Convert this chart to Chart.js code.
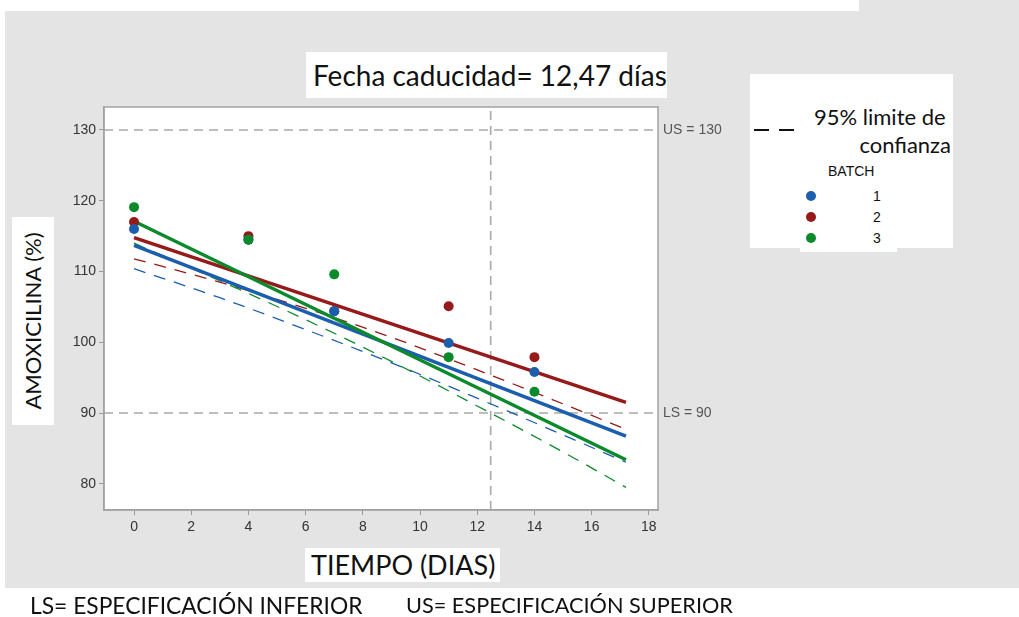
<!DOCTYPE html>
<html>
<head>
<meta charset="utf-8">
<script src="https://cdn.jsdelivr.net/npm/chart.js@4/dist/chart.umd.min.js"></script>
<style>
  html, body { margin:0; padding:0; background:#ffffff; width:1019px; height:617px; overflow:hidden; }
  .gray { position:absolute; background:#e4e4e4; }
  #wrap { position:absolute; left:0; top:0; width:1019px; height:617px; }
  canvas { position:absolute; left:0; top:0; }
  .box { position:absolute; background:#ffffff; }
  .txt { position:absolute; white-space:nowrap; color:#111; font-family:Lato, "Open Sans", sans-serif; }
  .dot { position:absolute; width:10px; height:10px; border-radius:50%; }
  .num { position:absolute; font-family:"Liberation Sans", Arial, sans-serif; font-size:14px; line-height:16px; color:#111; }
</style>
</head>
<body>
<div class="gray" style="left:5px; top:11px; width:1014px; height:577px;"></div>
<div class="gray" style="left:859px; top:0px; width:160px; height:12px;"></div>

<div id="wrap"><canvas id="c" width="1019" height="617"></canvas></div>

<!-- title -->
<div class="box" style="left:306px; top:52px; width:361px; height:46px;"></div>
<div class="txt" id="title" style="left:313px; top:58px; font-size:28px; line-height:34px;">Fecha caducidad= 12,47 días</div>

<!-- legend -->
<div class="box" style="left:750px; top:74px; width:203px; height:174px;"></div>
<div class="box" style="left:800px; top:240px; width:97px; height:12px;"></div>
<div style="position:absolute; left:754px; top:129px; width:15px; height:2px; background:#111;"></div>
<div style="position:absolute; left:779px; top:129px; width:15px; height:2px; background:#111;"></div>
<div class="txt" id="lg1" style="left:814px; top:104px; font-size:22px; line-height:26px;">95% limite de</div>
<div class="txt" id="lg2" style="right:68px; top:132px; font-size:22px; line-height:26px;">confianza</div>
<div class="txt" id="lgb" style="left:828px; top:163px; font-size:14px; line-height:16px; font-family:'Liberation Sans', Arial, sans-serif;">BATCH</div>
<div id="legendItems"></div>

<!-- axis titles -->
<div class="box" style="left:12px; top:217px; width:42px; height:208px;"></div>
<div class="txt" id="ytitle" style="left:33px; top:321px; font-size:22px; line-height:26px; transform:translate(-50%,-50%) rotate(-90deg);">AMOXICILINA (%)</div>

<div class="box" style="left:305px; top:548px; width:195px; height:34px;"></div>
<div class="txt" id="xtitle" style="left:311px; top:548px; font-size:27px; line-height:33px;">TIEMPO (DIAS)</div>

<div class="txt" id="foot1" style="left:30px; top:591px; font-size:22.8px; line-height:28px;">LS= ESPECIFICACIÓN INFERIOR</div>
<div class="txt" id="foot2" style="left:406px; top:591px; font-size:21.7px; line-height:28px;">US= ESPECIFICACIÓN SUPERIOR</div>

<script>
// ---- data ----
const days = [0, 4, 7, 11, 14];
const batch1 = [116.0, 114.5, 104.4, 99.9, 95.8];
const batch2 = [117.0, 115.0, 104.4, 105.1, 97.9];
const batch3 = [119.1, 114.5, 109.6, 97.9, 93.0];

const fitX = [0, 17.2];
const fit1 = [113.7, 86.75];
const fit2 = [114.8, 91.5];
const fit3 = [117.1, 83.4];

const ciX = [0, 3, 6, 9, 12, 15, 17.2];
const lower1 = [110.4, 106.3, 101.8, 97.1, 92.1, 86.9, 83.05];
const lower2 = [111.8, 108.5, 104.8, 100.7, 96.1, 91.3, 87.7];
const lower3 = [114.0, 108.7, 103.2, 97.3, 91.0, 84.5, 79.5];

const xTicks = [0, 2, 4, 6, 8, 10, 12, 14, 16, 18];
const yTicks = [80, 90, 100, 110, 120, 130];
const US = 130, LS = 90, shelfLife = 12.47;
const batchLabels = ['1', '2', '3'];

const X_MIN = -1.05, X_MAX = 18.32, Y_MIN = 76.3, Y_MAX = 133.25;
const colors = ['#1c5eae', '#961a1a', '#0b8a2c'];

const pts = (xs, ys) => xs.map((x, i) => ({x, y: ys[i]}));

// legend items (HTML, above the white legend box)
const legendY = [196, 217, 238];
const li = document.getElementById('legendItems');
batchLabels.forEach((lab, i) => {
  const d = document.createElement('div'); d.className = 'dot';
  d.style.left = (811 - 5) + 'px'; d.style.top = (legendY[i] - 5) + 'px'; d.style.background = colors[i];
  li.appendChild(d);
  const n = document.createElement('div'); n.className = 'num';
  n.style.left = '873px'; n.style.top = (legendY[i] - 8) + 'px'; n.textContent = lab;
  li.appendChild(n);
});

const refDash = { borderColor:'#a9a9a9', borderWidth:1.6, borderDash:[9,6], pointRadius:0, showLine:true, fill:false };

// listed in painting order (bottom first); reversed below since Chart.js paints index 0 on top
const layers = [
  Object.assign({ label:'US', data: pts([X_MIN, X_MAX], [US, US]) }, refDash),
  Object.assign({ label:'LS', data: pts([X_MIN, X_MAX], [LS, LS]) }, refDash),
  Object.assign({ label:'shelf', data: pts([shelfLife, shelfLife], [Y_MIN, Y_MAX]) }, refDash),
];
[lower1, lower2, lower3].forEach((l, i) => layers.push({ label:'ci'+i, data: pts(ciX, l), borderColor: colors[i], borderWidth:1.3, borderDash:[12,9], pointRadius:0, showLine:true, fill:false, cubicInterpolationMode:'monotone' }));
[fit1, fit2, fit3].forEach((f, i) => layers.push({ label:'fit'+i, data: pts(fitX, f), borderColor: colors[i], borderWidth:3.5, pointRadius:0, showLine:true, fill:false }));
[[batch2, 1], [batch1, 0], [batch3, 2]].forEach(([b, i]) => layers.push({ label:'Batch '+batchLabels[i], data: pts(days, b), backgroundColor: colors[i], borderColor: colors[i], pointRadius:5, borderWidth:0, showLine:false }));
const datasets = layers.slice().reverse();

const boxPlugin = {
  id:'boxPlugin',
  beforeDraw(chart) {
    const {ctx, chartArea:a} = chart;
    ctx.save(); ctx.fillStyle = '#ffffff';
    ctx.fillRect(a.left, a.top, a.right - a.left, a.bottom - a.top);
    ctx.restore();
  },
  afterDraw(chart) {
    const {ctx, chartArea:a, scales} = chart;
    ctx.save();
    ctx.strokeStyle = '#a2a2a2'; ctx.lineWidth = 1.5;
    ctx.strokeRect(a.left, a.top, a.right - a.left, a.bottom - a.top);
    ctx.fillStyle = '#555'; ctx.font = '14px "Liberation Sans", Arial, sans-serif';
    ctx.textBaseline = 'middle'; ctx.textAlign = 'left';
    ctx.fillText('US = ' + US, a.right + 5, scales.y.getPixelForValue(US));
    ctx.fillText('LS = ' + LS, a.right + 5, scales.y.getPixelForValue(LS));
    ctx.restore();
  }
};

new Chart(document.getElementById('c'), {
  type:'scatter',
  data:{ datasets },
  plugins:[boxPlugin],
  options:{
    responsive:false, animation:false, devicePixelRatio:1,
    layout:{ padding:{ left:64, top:107, right:361, bottom:77 } },
    plugins:{ legend:{ display:false }, tooltip:{ enabled:false } },
    scales:{
      x:{
        type:'linear', min:X_MIN, max:X_MAX,
        afterBuildTicks: ax => { ax.ticks = xTicks.map(v => ({value:v})); },
        afterFit: s => { s.height = 30; },
        grid:{ drawOnChartArea:false, drawTicks:true, tickLength:5, color:'#9a9a9a' },
        border:{ display:true, color:'#a2a2a2', width:1.5 },
        ticks:{ color:'#333', padding:4, font:{ family:'"Liberation Sans", Arial, sans-serif', size:14 }, maxRotation:0 }
      },
      y:{
        type:'linear', min:Y_MIN, max:Y_MAX,
        afterBuildTicks: ax => { ax.ticks = yTicks.map(v => ({value:v})); },
        afterFit: s => { s.width = 40; },
        grid:{ drawOnChartArea:false, drawTicks:true, tickLength:5, color:'#9a9a9a' },
        border:{ display:true, color:'#a2a2a2', width:1.5 },
        ticks:{ color:'#333', padding:3, font:{ family:'"Liberation Sans", Arial, sans-serif', size:14 } }
      }
    }
  }
});
</script>
</body>
</html>
